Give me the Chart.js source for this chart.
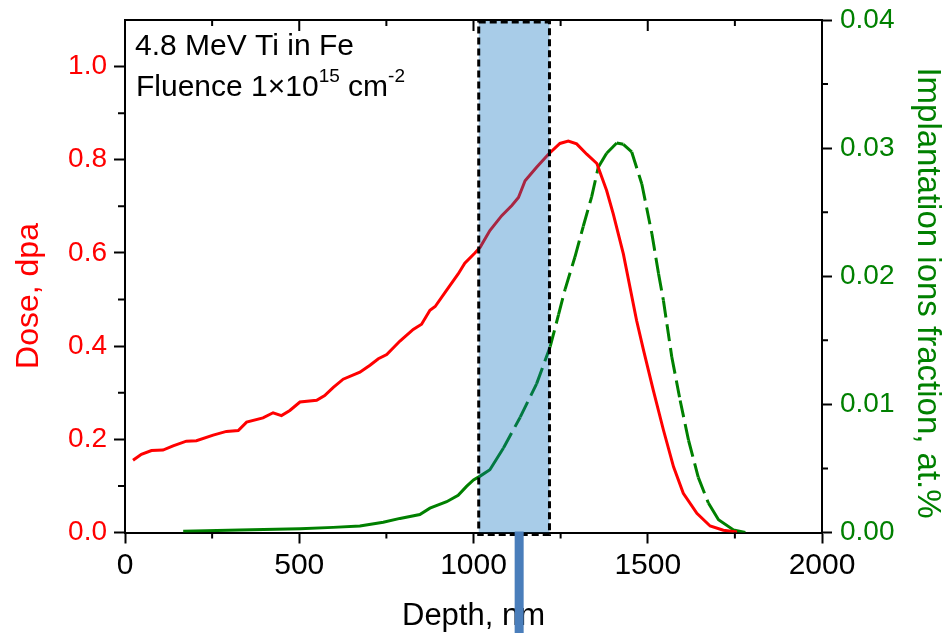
<!DOCTYPE html>
<html>
<head>
<meta charset="utf-8">
<script src="https://cdn.jsdelivr.net/npm/chart.js@4.4.1/dist/chart.umd.min.js"></script>
<style>
  html, body { margin: 0; padding: 0; background: #fff; }
  #wrap { width: 950px; height: 633px; }
</style>
</head>
<body>
<div id="wrap"><canvas id="doseChart" width="950" height="633"></canvas></div>
<script>
// Damage dose profile (left axis, dpa)
const doseDepth = [23, 47, 76, 109, 138, 176, 205, 253, 291, 325, 349, 396, 425, 449, 473, 502, 550, 573, 597, 626,
  674, 703, 727, 751, 789, 827, 851, 875, 890, 923, 956, 975, 1004, 1019, 1047, 1081, 1110, 1129, 1148, 1181,
  1215, 1248, 1272, 1296, 1325, 1354, 1382, 1401, 1430, 1468, 1488, 1516, 1545, 1574, 1602, 1641, 1679, 1717, 1756];
const doseValues = [0.155, 0.168, 0.176, 0.177, 0.186, 0.196, 0.197, 0.209, 0.217, 0.219, 0.237, 0.246, 0.257, 0.251, 0.262, 0.280, 0.284, 0.294, 0.311, 0.329,
  0.344, 0.359, 0.373, 0.382, 0.411, 0.436, 0.447, 0.477, 0.485, 0.520, 0.555, 0.578, 0.600, 0.612, 0.648, 0.680, 0.702, 0.719, 0.755, 0.784,
  0.812, 0.835, 0.840, 0.834, 0.812, 0.792, 0.734, 0.684, 0.598, 0.455, 0.391, 0.305, 0.220, 0.141, 0.084, 0.041, 0.014, 0.005, 0.001];

// Implanted Ti fraction (right axis, at.%)
const ionDepth = [167, 329, 502, 597, 674, 741, 789, 846, 875, 923, 956, 980, 1000, 1019, 1047, 1086, 1134, 1181, 1220, 1244,
  1263, 1291, 1315, 1339, 1358, 1382, 1411, 1430, 1454, 1483, 1512, 1531, 1545, 1569, 1593, 1617, 1645, 1674, 1703, 1746, 1780];
const ionFraction = [0.0001, 0.0002, 0.0003, 0.0004, 0.0005, 0.0008, 0.0011, 0.0014, 0.0019, 0.0024, 0.0029, 0.0036, 0.0041, 0.0044, 0.0049, 0.0066, 0.0090, 0.0116, 0.0145, 0.0170,
  0.0190, 0.0215, 0.0239, 0.0262, 0.0285, 0.0296, 0.0304, 0.0303, 0.0297, 0.0272, 0.0233, 0.0202, 0.0181, 0.0137, 0.0103, 0.0072, 0.0043, 0.0023, 0.0010, 0.0002, 0.0000];

const bandRange = [1015, 1218];   // highlighted depth window, nm
const markerDepth = 1131;          // blue marker below the axis
const depthMajor = [0, 500, 1000, 1500, 2000];
const depthMinor = [250, 750, 1250, 1750];
const doseMinor = [0.1, 0.3, 0.5, 0.7, 0.9];
const ionMinor = [0.005, 0.015, 0.025, 0.035];

const FONT = "'Liberation Sans', Arial, sans-serif";
const GREEN = '#008000';

// dashed only on the steep part; each segment restarts its dash like the original plot
const dashedPart = (c) => c.p0.parsed.x >= 1080 && c.p1.parsed.x <= 1680;

// fixed box sizes so the plot frame sits where the original one does
const fitBox = (w, h) => (s) => {
  if (w) s.width = w;
  if (h) s.height = h;
  s.paddingTop = 0; s.paddingBottom = 0; s.paddingLeft = 0; s.paddingRight = 0;
};

const decor = {
  id: 'decor',
  afterDatasetsDraw(chart) {
    const { ctx, chartArea: a, scales: { x } } = chart;
    const x0 = x.getPixelForValue(bandRange[0]);
    const x1 = x.getPixelForValue(bandRange[1]);
    ctx.save();
    ctx.fillStyle = 'rgba(6, 109, 189, 0.35)';
    ctx.fillRect(x0, a.top, x1 - x0, a.bottom - a.top);
    ctx.setLineDash([7, 4]);
    ctx.lineWidth = 3;
    ctx.strokeStyle = '#000';
    ctx.strokeRect(x0, a.top + 2, x1 - x0, a.bottom - a.top);
    ctx.restore();
  },
  afterDraw(chart) {
    const { ctx, chartArea: a, scales: { x, y, y1 } } = chart;
    ctx.save();
    ctx.strokeStyle = '#000';
    ctx.lineWidth = 2;
    ctx.beginPath();
    // top spine
    ctx.moveTo(a.left - 1, a.top);
    ctx.lineTo(a.right + 1, a.top);
    // top mirror ticks (inward)
    depthMajor.forEach(v => {
      const px = x.getPixelForValue(v);
      ctx.moveTo(px, a.top); ctx.lineTo(px, a.top + 11);
    });
    depthMinor.forEach(v => {
      const px = x.getPixelForValue(v);
      ctx.moveTo(px, a.top); ctx.lineTo(px, a.top + 6);
      ctx.moveTo(px, a.bottom); ctx.lineTo(px, a.bottom + 6);
    });
    doseMinor.forEach(v => {
      const py = y.getPixelForValue(v);
      ctx.moveTo(a.left, py); ctx.lineTo(a.left - 7, py);
    });
    ionMinor.forEach(v => {
      const py = y1.getPixelForValue(v);
      ctx.moveTo(a.right, py); ctx.lineTo(a.right + 6, py);
    });
    ctx.stroke();

    // axis titles
    ctx.font = '32px ' + FONT;
    ctx.textAlign = 'center';
    ctx.textBaseline = 'middle';
    ctx.fillStyle = '#ff0000';
    ctx.save();
    ctx.translate(29, 296);
    ctx.rotate(-Math.PI / 2);
    ctx.fillText('Dose, dpa', 0, 0);
    ctx.restore();
    ctx.font = '33px ' + FONT;
    ctx.fillStyle = GREEN;
    ctx.save();
    ctx.translate(927, 293);
    ctx.rotate(Math.PI / 2);
    ctx.fillText('Implantation ions fraction, at.%', 0, 0);
    ctx.restore();
    ctx.font = '31px ' + FONT;
    ctx.fillStyle = '#000';
    ctx.textBaseline = 'alphabetic';
    ctx.fillText('Depth, nm', (a.left + a.right) / 2, 625);

    // annotation
    ctx.textAlign = 'left';
    ctx.font = '30px ' + FONT;
    ctx.fillText('4.8 MeV Ti in Fe', 135, 55);
    let tx = 136;
    const part = (s, size, base) => {
      ctx.font = size + 'px ' + FONT;
      ctx.fillText(s, tx, base);
      tx += ctx.measureText(s).width;
    };
    part('Fluence 1\u00d710', 30, 96);
    part('15', 19, 82);
    part(' cm', 30, 96);
    part('-2', 19, 82);

    // marker bar below the axis
    const mx = x.getPixelForValue(markerDepth);
    ctx.fillStyle = '#4a7ebb';
    ctx.fillRect(mx - 4.5, a.bottom - 1, 9, chart.height - a.bottom + 1);
    ctx.restore();
  }
};

new Chart(document.getElementById('doseChart'), {
  type: 'line',
  data: {
    datasets: [
      {
        label: 'Dose',
        data: doseDepth.map((d, i) => ({ x: d, y: doseValues[i] })),
        yAxisID: 'y',
        borderColor: '#ff0000',
        borderWidth: 3,
        pointRadius: 0,
        tension: 0,
        fill: false
      },
      {
        label: 'Implanted ions',
        data: ionDepth.map((d, i) => ({ x: d, y: ionFraction[i] })),
        yAxisID: 'y1',
        borderColor: GREEN,
        borderWidth: 3,
        pointRadius: 0,
        tension: 0,
        fill: false,
        segment: {
          borderDash: c => dashedPart(c) ? [17, 7] : undefined,
          borderDashOffset: c => dashedPart(c) ? (c.p0DataIndex % 2) * 0.01 : undefined
        }
      }
    ]
  },
  options: {
    responsive: false,
    animation: false,
    devicePixelRatio: 1,
    layout: { padding: { top: 20, left: 0, right: 0, bottom: 0 } },
    plugins: { legend: { display: false }, tooltip: { enabled: false } },
    scales: {
      x: {
        type: 'linear', position: 'bottom', min: 0, max: 2000,
        afterFit: fitBox(0, 100.5),
        ticks: { stepSize: 500, color: '#000', font: { family: FONT, size: 30 }, padding: 4, maxRotation: 0,
          callback: v => String(v) },
        grid: { drawOnChartArea: false, tickLength: 11, tickWidth: 2, tickColor: '#000' },
        border: { color: '#000', width: 2 }
      },
      y: {
        type: 'linear', position: 'left', min: 0, max: 1.1,
        afterFit: fitBox(125, 0),
        ticks: { stepSize: 0.2, includeBounds: false, color: '#ff0000', font: { family: FONT, size: 28 }, padding: 7,
          callback: v => v.toFixed(1) },
        grid: { drawOnChartArea: false, tickLength: 11, tickWidth: 2, tickColor: '#000' },
        border: { color: '#000', width: 2 }
      },
      y1: {
        type: 'linear', position: 'right', min: 0, max: 0.04,
        afterFit: fitBox(128, 0),
        ticks: { stepSize: 0.01, color: GREEN, font: { family: FONT, size: 28 }, padding: 8,
          callback: v => v.toFixed(2) },
        grid: { drawOnChartArea: false, tickLength: 10, tickWidth: 2, tickColor: '#000' },
        border: { color: '#000', width: 2 }
      }
    }
  },
  plugins: [decor]
});
</script>
</body>
</html>
